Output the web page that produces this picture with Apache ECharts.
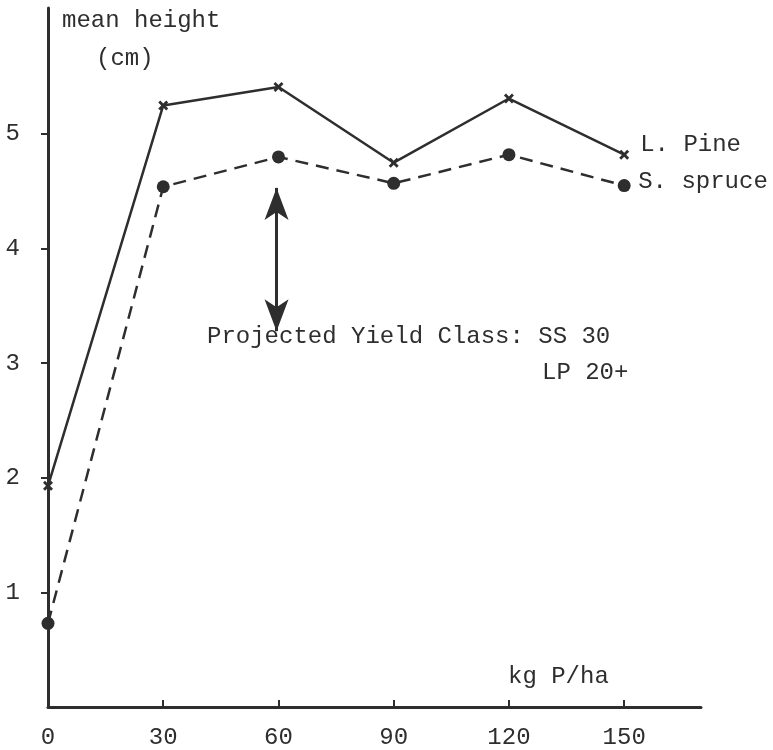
<!DOCTYPE html>
<html>
<head>
<meta charset="utf-8">
<script src="https://cdn.jsdelivr.net/npm/echarts@6/dist/echarts.min.js"></script>
<style>
  html, body { margin: 0; padding: 0; background: #fff; }
  #chart { width: 773px; height: 750px; }
</style>
</head>
<body>
<div id="chart"></div>
<script>
// phosphorus rate (kg P/ha)
const rates = [0, 30, 60, 90, 120, 150];
// mean height (cm)
const lodgepolePine = [1.93, 5.25, 5.41, 4.75, 5.31, 4.82];
const sitkaSpruce = [0.73, 4.54, 4.8, 4.57, 4.82, 4.55];
const xTicks = [0, 30, 60, 90, 120, 150];
const yTicks = [1, 2, 3, 4, 5];
// double-headed arrow between the curves
const arrowX = 59.5;
const arrowTop = 4.53;
const arrowBottom = 3.28;

const ink = "#2e2e2e";
const font = "'Liberation Mono', 'DejaVu Sans Mono', monospace";
const crossPath = "path://M0,2L2,0L5,3L8,0L10,2L7,5L10,8L8,10L5,7L2,10L0,8L3,5Z";

const chart = echarts.init(document.getElementById("chart"));

chart.setOption({
  animation: false,
  backgroundColor: "#fff",
  grid: { left: 48, right: 72, top: 8, bottom: 42 },
  xAxis: {
    type: "value",
    min: 0,
    max: 170,
    axisLine: { lineStyle: { color: ink, width: 3 } },
    axisTick: { show: true, inside: true, length: 7, lineStyle: { color: ink, width: 2 }, customValues: xTicks },
    axisLabel: { color: ink, fontFamily: font, fontSize: 24, margin: 19, customValues: xTicks },
    splitLine: { show: false },
  },
  yAxis: {
    type: "value",
    min: 0,
    max: 6.1,
    axisLine: { show: true, lineStyle: { color: ink, width: 3 } },
    axisTick: { show: true, inside: false, length: 7, lineStyle: { color: ink, width: 2 }, customValues: yTicks },
    axisLabel: { color: ink, fontFamily: font, fontSize: 24, margin: 28, customValues: yTicks },
    splitLine: { show: false },
  },
  series: [
    {
      name: "L. Pine",
      type: "line",
      data: rates.map((r, i) => [r, lodgepolePine[i]]),
      symbol: crossPath,
      symbolSize: 10,
      itemStyle: { color: ink },
      lineStyle: { color: ink, width: 2.5 },
      endLabel: {
        show: true,
        formatter: "{a}",
        color: ink,
        fontFamily: font,
        fontSize: 24,
        distance: 16,
        offset: [0, -10],
      },
      markLine: {
        silent: true,
        symbol: ["arrow", "arrow"],
        symbolSize: [18, 32],
        lineStyle: { color: ink, width: 3, type: "solid" },
        label: { show: false },
        data: [[{ coord: [arrowX, arrowTop] }, { coord: [arrowX, arrowBottom] }]],
      },
      z: 3,
    },
    {
      name: "S. spruce",
      type: "line",
      data: rates.map((r, i) => [r, sitkaSpruce[i]]),
      symbol: "circle",
      symbolSize: 13,
      itemStyle: { color: ink },
      lineStyle: { color: ink, width: 2.5, type: [13, 8] },
      endLabel: {
        show: true,
        formatter: "{a}",
        color: ink,
        fontFamily: font,
        fontSize: 24,
        distance: 14,
        offset: [0, -4],
      },
      z: 3,
    },
  ],
  graphic: [
    { type: "text", left: 62, top: 9, style: { text: "mean height", fill: ink, font: "24px " + font } },
    { type: "text", left: 96, top: 47, style: { text: "(cm)", fill: ink, font: "24px " + font } },
    { type: "text", left: 508, top: 665, style: { text: "kg P/ha", fill: ink, font: "24px " + font } },
    { type: "text", left: 207, top: 325, style: { text: "Projected Yield Class: SS 30", fill: ink, font: "24px " + font } },
    { type: "text", left: 542, top: 361, style: { text: "LP 20+", fill: ink, font: "24px " + font } },
  ],
});
</script>
</body>
</html>
